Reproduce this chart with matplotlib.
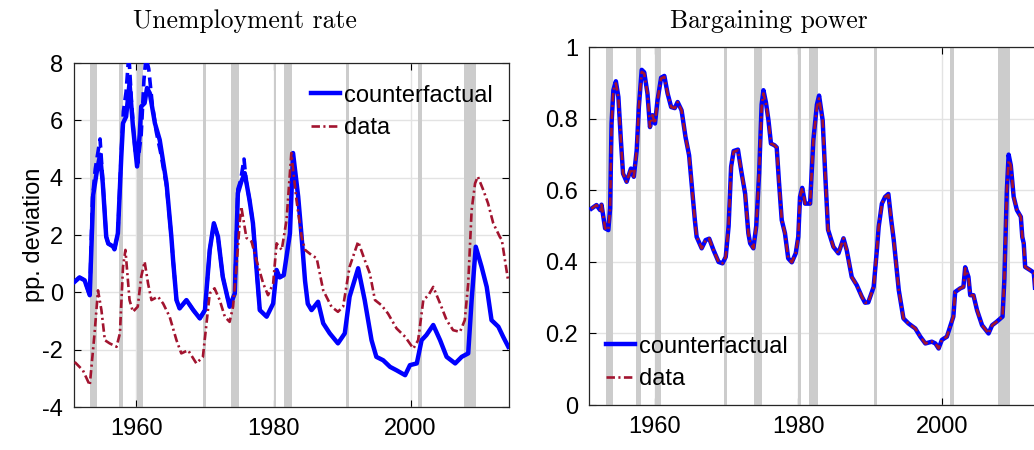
import matplotlib.pyplot as plt
import numpy as np

# NBER-style recession bands (start, end)
recessions = [(1953.2, 1954.2), (1957.4, 1958.1), (1960.1, 1960.9), (1969.7, 1970.1),
              (1973.8, 1974.9), (1980.0, 1980.4), (1981.5, 1982.7), (1990.6, 1991.0),
              (2001.1, 2001.7), (2007.8, 2009.5)]

# Unemployment rate, pp. deviation
ur_cf_years = [1951.0, 1951.7, 1952.45, 1953.2, 1953.7, 1954.2, 1954.7, 1955.1, 1955.6, 1955.9,
               1956.6, 1956.8, 1957.3, 1957.8, 1958.05, 1958.5, 1959.0, 1959.5, 1960.1, 1960.5,
               1960.7, 1961.2, 1961.55, 1961.95, 1962.7, 1963.4, 1964.4, 1965.1, 1965.35, 1965.85,
               1966.3, 1967.3, 1968.3, 1969.25, 1970.0, 1970.7, 1971.3, 1971.9, 1972.6, 1973.6,
               1974.35, 1974.8, 1975.3, 1975.8, 1976.5, 1977.0, 1977.5, 1978.0, 1979.0, 1979.95,
               1980.45, 1980.9, 1981.5, 1982.4, 1982.85, 1983.6, 1984.1, 1984.6, 1985.0, 1985.55,
               1986.5, 1987.25, 1988.2, 1989.4, 1990.4, 1991.1, 1992.35, 1993.3, 1994.3, 1995.0,
               1996.0, 1997.0, 1997.95, 1999.2, 1999.9, 2000.9, 2001.6, 2002.3, 2003.3, 2004.3,
               2005.25, 2006.5, 2007.45, 2008.4, 2008.9, 2009.5, 2010.35, 2011.1, 2011.8, 2012.8,
               2013.5, 2014.25]
ur_cf = [0.37, 0.52, 0.42, -0.1, 3.4, 4.17, 4.8, 3.8, 1.94, 1.7,
         1.6, 1.5, 2.06, 4.74, 5.9, 6.13, 7.3, 5.78, 4.39, 5.55,
         6.48, 6.6, 7.13, 6.95, 5.9, 5.32, 3.8, 1.94, 1.13, -0.27,
         -0.56, -0.27, -0.62, -0.91, -0.62, 1.48, 2.41, 1.94, 0.54, -0.5,
         -0.04, 3.46, 3.86, 4.16, 3.22, 2.41, 0.89, -0.62, -0.85, -0.39,
         0.78, 0.52, 0.6, 2.06, 4.86, 3.34, 1.94, 0.4, -0.4, -0.62,
         -0.33, -1.08, -1.43, -1.78, -1.43, -0.15, 0.84, -0.27, -1.67, -2.25,
         -2.37, -2.6, -2.72, -2.89, -2.54, -2.48, -1.67, -1.49, -1.14, -1.67,
         -2.25, -2.48, -2.25, -2.13, -0.27, 1.59, 0.89, 0.19, -0.97, -1.2,
         -1.55, -1.9]

# second counterfactual (dashed), only differs around the early peaks
ur_cf2_years = [1951.0, 1951.7, 1952.45, 1953.2, 1953.6, 1954.0, 1954.7, 1955.1, 1955.6, 1955.9,
                1956.6, 1956.8, 1957.3, 1957.8, 1958.1, 1958.5, 1958.9, 1959.3, 1959.8, 1960.2,
                1960.7, 1961.1, 1961.4, 1961.8, 1962.3, 1962.9, 1963.6, 1964.4, 1965.1, 1965.35,
                1965.85, 1966.3, 1967.3, 1968.3, 1969.25, 1970.0, 1970.7, 1971.3, 1971.9, 1972.6,
                1973.6, 1974.35, 1974.8, 1975.2, 1975.7, 1976.0, 1976.5, 1977.0, 1977.5, 1978.0]
ur_cf2 = [0.37, 0.52, 0.42, -0.1, 3.3, 4.3, 5.35, 3.9, 1.94, 1.7,
          1.6, 1.5, 2.06, 4.9, 6.3, 7.0, 8.3, 6.6, 5.0, 4.5,
          5.5, 7.4, 8.2, 7.8, 6.6, 5.6, 4.8, 3.7, 1.94, 1.13,
          -0.27, -0.56, -0.27, -0.62, -0.91, -0.62, 1.48, 2.41, 1.94, 0.54,
          -0.5, -0.04, 3.6, 3.9, 4.65, 3.9, 3.22, 2.41, 0.89, -0.62]

ur_data_years = [1951.0, 1952.2, 1953.2, 1953.9, 1954.4, 1954.9, 1955.4, 1956.1, 1957.1, 1957.6,
                 1958.05, 1958.4, 1959.0, 1959.5, 1960.2, 1960.7, 1961.2, 1961.7, 1962.2, 1963.15,
                 1963.9, 1964.85, 1965.85, 1966.55, 1967.55, 1968.75, 1969.7, 1970.7, 1971.4, 1972.15,
                 1972.9, 1973.6, 1974.1, 1974.6, 1975.1, 1975.3, 1976.05, 1976.8, 1977.5, 1978.5,
                 1979.2, 1979.95, 1980.45, 1981.2, 1981.9, 1982.6, 1983.35, 1984.1, 1984.6, 1985.55,
                 1986.3, 1987.25, 1988.45, 1989.4, 1990.15, 1991.1, 1992.35, 1993.3, 1994.05, 1994.8,
                 1995.75, 1996.7, 1997.95, 1999.2, 2000.4, 2001.1, 2001.85, 2002.6, 2003.3, 2004.3,
                 2005.25, 2006.2, 2007.2, 2007.9, 2008.4, 2008.9, 2009.4, 2009.8, 2010.6, 2011.3,
                 2012.05, 2013.0, 2013.3, 2014.25]
ur_data = [-2.43, -2.72, -3.24, -1.43, 0.07, -0.62, -1.67, -1.78, -1.9, -1.43,
           0.89, 1.48, -0.27, -0.68, -0.5, 0.54, 1.07, 0.31, -0.27, -0.15,
           -0.39, -0.85, -1.67, -2.13, -2.02, -2.48, -2.25, -0.04, 0.14, -0.27,
           -0.85, -1.03, -0.5, 0.89, 2.52, 2.99, 1.9, 1.77, 1.13, 0.31,
           -0.1, 0.31, 1.71, 1.48, 2.52, 4.86, 3.22, 1.94, 1.48, 1.3,
           1.19, 0.07, -0.5, -0.68, -0.5, 0.89, 1.77, 1.13, 0.66, -0.27,
           -0.45, -0.74, -1.26, -1.55, -1.96, -1.67, -0.27, -0.1, 0.19, -0.39,
           -0.97, -1.32, -1.38, -0.97, 0.31, 2.87, 3.8, 4.04, 3.57, 3.1,
           2.41, 1.94, 1.83, 0.37]

# Bargaining power (levels)
bp_years = [1951.2, 1951.9, 1952.4, 1952.6, 1953.1, 1953.55, 1953.8, 1954.0, 1954.25, 1954.6,
            1954.95, 1955.3, 1955.6, 1956.1, 1956.7, 1957.1, 1957.5, 1957.8, 1958.2, 1958.55,
            1959.0, 1959.35, 1959.7, 1960.05, 1960.4, 1960.9, 1961.35, 1961.8, 1962.3, 1962.8,
            1963.2, 1963.75, 1964.3, 1964.8, 1965.15, 1965.6, 1965.85, 1966.55, 1967.1, 1967.6,
            1968.2, 1968.9, 1969.45, 1969.9, 1970.3, 1970.65, 1971.0, 1971.6, 1972.05, 1972.6,
            1973.05, 1973.3, 1973.75, 1974.15, 1974.55, 1974.9, 1975.15, 1975.5, 1975.85, 1976.2,
            1976.7, 1977.0, 1977.3, 1977.7, 1978.15, 1978.6, 1979.1, 1979.65, 1980.0, 1980.25,
            1980.55, 1980.95, 1981.65, 1982.1, 1982.6, 1982.9, 1983.4, 1983.75, 1984.15, 1984.9,
            1985.6, 1986.3, 1986.75, 1987.45, 1988.15, 1988.85, 1989.3, 1989.75, 1990.5, 1990.95,
            1991.2, 1991.65, 1992.1, 1992.55, 1992.95, 1993.3, 1994.0, 1994.65, 1995.35, 1996.3,
            1997.0, 1997.7, 1998.6, 1999.1, 1999.55, 2000.0, 2000.7, 2001.15, 2001.6, 2001.85,
            2002.55, 2003.0, 2003.25, 2003.7, 2003.95, 2004.4, 2004.9, 2005.6, 2006.5, 2007.0,
            2007.65, 2008.45, 2008.7, 2008.9, 2009.05, 2009.3, 2009.6, 2010.0, 2010.45, 2011.0,
            2011.2, 2011.4, 2011.6, 2012.3, 2012.8, 2013.0, 2013.6, 2014.25]
bp_data = [0.549, 0.559, 0.545, 0.56, 0.494, 0.489, 0.55, 0.787, 0.88, 0.899,
           0.861, 0.74, 0.647, 0.624, 0.661, 0.638, 0.712, 0.833, 0.931, 0.926,
           0.871, 0.777, 0.81, 0.787, 0.852, 0.913, 0.917, 0.871, 0.833, 0.83,
           0.847, 0.824, 0.749, 0.698, 0.619, 0.517, 0.47, 0.438, 0.461, 0.465,
           0.433, 0.4, 0.396, 0.414, 0.5, 0.666, 0.708, 0.712, 0.656, 0.591,
           0.48, 0.452, 0.438, 0.5, 0.647, 0.833, 0.871, 0.843, 0.796, 0.731,
           0.726, 0.72, 0.628, 0.517, 0.48, 0.41, 0.399, 0.424, 0.47, 0.582,
           0.607, 0.563, 0.563, 0.74, 0.833, 0.857, 0.796, 0.647, 0.49, 0.442,
           0.424, 0.466, 0.433, 0.358, 0.335, 0.303, 0.286, 0.287, 0.33, 0.433,
           0.498, 0.563, 0.582, 0.587, 0.517, 0.461, 0.321, 0.242, 0.228, 0.214,
           0.191, 0.172, 0.177, 0.172, 0.158, 0.182, 0.191, 0.219, 0.247, 0.316,
           0.326, 0.33, 0.382, 0.358, 0.307, 0.307, 0.265, 0.223, 0.2, 0.223,
           0.233, 0.247, 0.349, 0.489, 0.6, 0.684, 0.67, 0.582, 0.545, 0.526,
           0.47, 0.452, 0.386, 0.377, 0.37, 0.321, 0.33, 0.32]
bp_cf = [0.549, 0.559, 0.545, 0.56, 0.494, 0.489, 0.55, 0.787, 0.88, 0.905,
         0.861, 0.74, 0.647, 0.624, 0.661, 0.638, 0.712, 0.833, 0.937, 0.93,
         0.871, 0.777, 0.81, 0.787, 0.852, 0.915, 0.92, 0.871, 0.833, 0.83,
         0.847, 0.824, 0.749, 0.698, 0.619, 0.517, 0.47, 0.438, 0.461, 0.465,
         0.433, 0.4, 0.396, 0.414, 0.5, 0.666, 0.71, 0.714, 0.656, 0.591,
         0.48, 0.452, 0.438, 0.5, 0.647, 0.84, 0.88, 0.846, 0.796, 0.731,
         0.726, 0.72, 0.628, 0.517, 0.48, 0.41, 0.399, 0.424, 0.47, 0.582,
         0.607, 0.563, 0.563, 0.74, 0.84, 0.865, 0.796, 0.647, 0.49, 0.442,
         0.424, 0.466, 0.433, 0.358, 0.335, 0.303, 0.286, 0.287, 0.33, 0.433,
         0.498, 0.563, 0.582, 0.59, 0.517, 0.461, 0.321, 0.242, 0.228, 0.214,
         0.191, 0.172, 0.177, 0.172, 0.158, 0.182, 0.191, 0.219, 0.247, 0.316,
         0.326, 0.33, 0.385, 0.358, 0.307, 0.307, 0.265, 0.223, 0.2, 0.223,
         0.233, 0.247, 0.349, 0.489, 0.6, 0.7, 0.67, 0.582, 0.545, 0.526,
         0.47, 0.452, 0.386, 0.377, 0.37, 0.321, 0.33, 0.32]

BLUE = "#0000ff"
RED = "#a2142f"
XLIM = (1950.9, 2014.35)
DASHDOT = (0, (3.2, 1.3, 0.8, 1.3))   # matlab-ish '-.'

plt.rcParams["font.family"] = "Liberation Sans"
plt.rcParams["font.size"] = 17
plt.rcParams["axes.unicode_minus"] = False

fig = plt.figure(figsize=(10.34, 4.5), dpi=100)
ax1 = fig.add_axes([74 / 1034, 1 - 407 / 450, 435 / 1034, 344 / 450])
ax2 = fig.add_axes([589.3 / 1034, 1 - 405 / 450, 455.6 / 1034, 357.7 / 450])


def style(ax):
    for a, b in recessions:
        ax.axvspan(a, b, color="#cccccc", lw=0, zorder=1)
    ax.grid(True, color="#e3e3e3", lw=1.0, zorder=0)
    ax.set_axisbelow(True)
    ax.tick_params(direction="in", top=True, right=True, length=5, width=0.8,
                   labelsize=17, pad=8)
    for s in ax.spines.values():
        s.set_linewidth(0.9)
        s.set_color("#262626")
    ax.set_xlim(*XLIM)
    ax.set_xticks([1960, 1980, 2000])


# left: unemployment rate
style(ax1)
ax1.plot(ur_cf2_years, ur_cf2, color=BLUE, lw=2.6, ls=(0, (3, 1.6)), zorder=3)
ax1.plot(ur_cf_years, ur_cf, "-", color=BLUE, lw=3.2, zorder=4, label="counterfactual")
ax1.plot(ur_data_years, ur_data, color=RED, lw=1.9, ls=DASHDOT, zorder=5, label="data")
ax1.set_ylim(-4, 8)
ax1.set_yticks(np.arange(-4, 9, 2))
ax1.set_ylabel("pp. deviation", fontsize=17, labelpad=-2)
ax1.legend(loc="upper right", bbox_to_anchor=(1.0, 0.985), frameon=False, fontsize=17,
           handlelength=1.25, handletextpad=0.15, labelspacing=0.45, borderaxespad=0.3)

# right: bargaining power
style(ax2)
ax2.plot(bp_years, bp_cf, "-", color=BLUE, lw=3.2, zorder=4, label="counterfactual")
ax2.plot(bp_years, bp_data, color=RED, lw=1.9, ls=DASHDOT, zorder=5, label="data")
ax2.set_ylim(0, 1)
ax2.set_yticks([0, 0.2, 0.4, 0.6, 0.8, 1])
ax2.set_yticklabels(["0", "0.2", "0.4", "0.6", "0.8", "1"])
ax2.legend(loc="lower left", bbox_to_anchor=(0.0, -0.005), frameon=False, fontsize=17,
           handlelength=1.25, handletextpad=0.15, labelspacing=0.45, borderaxespad=0.3)

fig.text(245 / 1034, 1 - 21 / 450, "Unemployment rate", family="cmr10", fontsize=18.5,
         ha="center", va="center")
fig.text(769 / 1034, 1 - 21 / 450, "Bargaining power", family="cmr10", fontsize=18.5,
         ha="center", va="center")

fig.savefig("out.png", dpi=100)
